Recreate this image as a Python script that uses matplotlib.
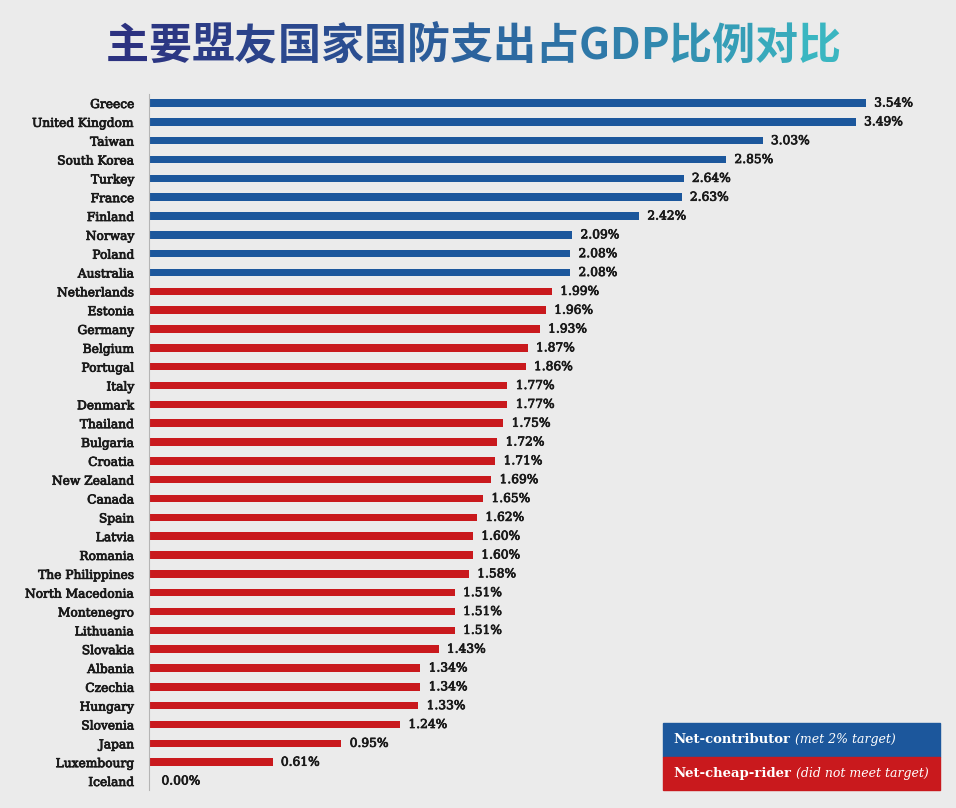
import matplotlib
matplotlib.use("Agg")
import matplotlib.pyplot as plt
import matplotlib.patheffects as pe
import numpy as np
from matplotlib.colors import LinearSegmentedColormap

countries = ["Greece", "United Kingdom", "Taiwan", "South Korea", "Turkey", "France",
             "Finland", "Norway", "Poland", "Australia", "Netherlands", "Estonia",
             "Germany", "Belgium", "Portugal", "Italy", "Denmark", "Thailand",
             "Bulgaria", "Croatia", "New Zealand", "Canada", "Spain", "Latvia",
             "Romania", "The Philippines", "North Macedonia", "Montenegro",
             "Lithuania", "Slovakia", "Albania", "Czechia", "Hungary", "Slovenia",
             "Japan", "Luxembourg", "Iceland"]
values = [3.54, 3.49, 3.03, 2.85, 2.64, 2.63, 2.42, 2.09, 2.08, 2.08, 1.99, 1.96,
          1.93, 1.87, 1.86, 1.77, 1.77, 1.75, 1.72, 1.71, 1.69, 1.65, 1.62, 1.60,
          1.60, 1.58, 1.51, 1.51, 1.51, 1.43, 1.34, 1.34, 1.33, 1.24, 0.95, 0.61,
          0.00]
target = 2.0
title = "主要盟友国家国防支出占GDP比例对比"
legend_items = [("Net-contributor", "(met 2% target)"),
                ("Net-cheap-rider", "(did not meet target)")]

BLUE = "#1c579c"
RED = "#c9191d"
BG = "#ebebeb"
TXT = "#1a1a1a"
W, H = 956, 808

fig = plt.figure(figsize=(W / 100, H / 100), dpi=100, facecolor=BG)
embolden = [pe.Stroke(linewidth=0.55, foreground=TXT), pe.Normal()]

# axes geometry in pixels
ax_left_px, ax_right_px = 149, 956
top_px, bot_px = 93.6, 790.4
ax = fig.add_axes([ax_left_px / W, 1 - bot_px / H, (ax_right_px - ax_left_px) / W,
                   (bot_px - top_px) / H])
ax.set_facecolor(BG)
n = len(countries)
y = np.arange(n)
colors = [BLUE if v >= target else RED for v in values]
ax.barh(y, values, height=0.4, color=colors, zorder=2)
ax.set_ylim(n - 0.5, -0.5)
ax.set_xlim(0, (ax_right_px - ax_left_px) / 202.5)
for s in ["top", "right", "bottom"]:
    ax.spines[s].set_visible(False)
ax.spines["left"].set_color("#b5b5b5")
ax.spines["left"].set_linewidth(0.8)
ax.set_xticks([])
ax.set_yticks(y)
ax.set_yticklabels(countries, fontfamily="DejaVu Serif", fontsize=8.8, color=TXT)
for lab in ax.get_yticklabels():
    lab.set_path_effects(embolden)
ax.tick_params(axis="y", length=0, pad=10.5)

for yi, v in zip(y, values):
    ax.annotate(f"{v:.2f}%", (v, yi), xytext=(6 if v > 0 else 9, 0),
                textcoords="offset points", va="center", ha="left",
                fontfamily="DejaVu Serif", fontsize=8.8, color=TXT,
                path_effects=embolden)

# Legend boxes
lx0, lx1 = 663, 940
rows = [(723, 756.5, BLUE), (756.5, 790, RED)]
for (t, b, c), (bold, ital) in zip(rows, legend_items):
    fig.patches.append(plt.Rectangle((lx0 / W, 1 - b / H), (lx1 - lx0) / W, (b - t) / H,
                                     transform=fig.transFigure, color=c, zorder=3))
    tb = fig.text((lx0 + 10) / W, 1 - ((t + b) / 2) / H, bold, color="white",
                  fontfamily="DejaVu Serif", fontweight="bold", fontsize=9.5,
                  va="center", ha="left", zorder=4)
    fig.canvas.draw()
    r = fig.canvas.get_renderer()
    bb = tb.get_window_extent(r)
    fig.text((bb.x1 + 5) / W, 1 - ((t + b) / 2) / H, ital, color="white",
             fontfamily="DejaVu Serif", fontstyle="italic", fontsize=9,
             va="center", ha="left", zorder=4)

# Gradient title, character by character
cmap = LinearSegmentedColormap.from_list("t", ["#2c2f7e", "#2b4f92", "#2e78a8", "#3bbcc3"])
fig.canvas.draw()
r = fig.canvas.get_renderer()
tprops = dict(fontfamily=["Noto Sans CJK SC", "DejaVu Sans"], fontweight="heavy",
              fontsize=31)
widths = []
for ch in title:
    t = fig.text(0, 0, ch, **tprops)
    widths.append(t.get_window_extent(r).width)
    t.remove()
total = sum(widths)
x0 = 473 - total / 2
x = x0
for ch, w in zip(title, widths):
    frac = (x + w / 2 - x0) / total
    fig.text(x / W, 1 - 46 / H, ch, color=cmap(frac), ha="left", va="center", **tprops)
    x += w

fig.savefig("out.png", dpi=100, facecolor=BG)
